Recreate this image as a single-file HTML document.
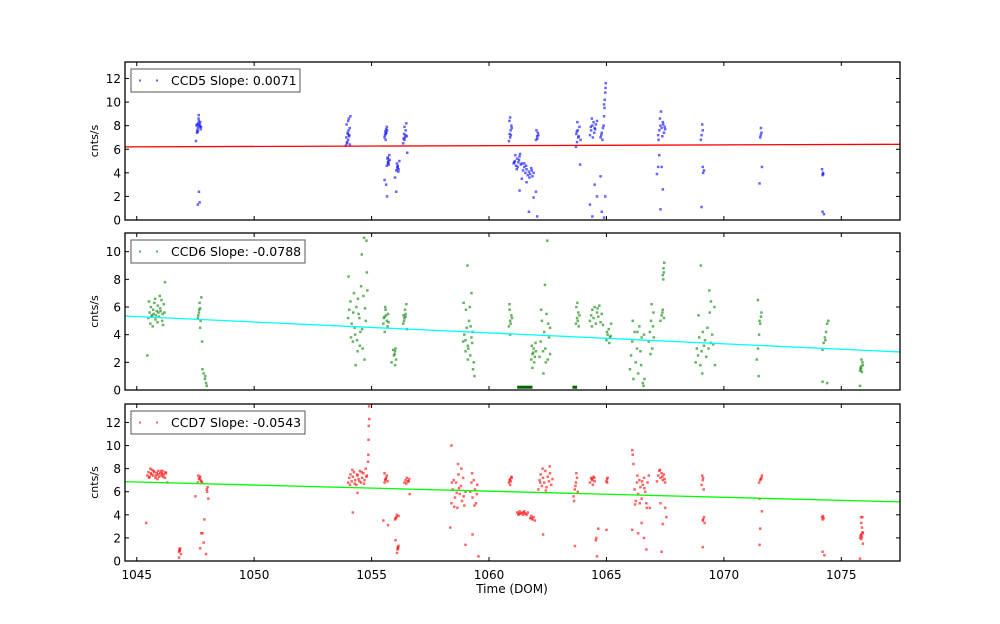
<!DOCTYPE html>
<html><head><meta charset="utf-8">
<style>
html,body{margin:0;padding:0;background:#fff;}
svg{display:block;font-family:"DejaVu Sans","Liberation Sans",sans-serif;}
</style></head>
<body>
<svg id="chart" width="1000" height="624" viewBox="0 0 1000 624" xmlns="http://www.w3.org/2000/svg">
<rect x="0" y="0" width="1000" height="624" fill="#fff"/>
<text x="512" y="593" font-size="12" text-anchor="middle">Time (DOM)</text>
</svg>
<script>
// ---- data ----
const xTicks = [1045, 1050, 1055, 1060, 1065, 1070, 1075];
const xDomain = [1044.5, 1077.5];
const panelNames = ["CCD5", "CCD6", "CCD7"];
const slopes = ["0.0071", "-0.0788", "-0.0543"];
const yDomains = [[0, 13.4], [0, 11.35], [0, 13.6]];
const yTicks5 = [0, 2, 4, 6, 8, 10, 12];
const yTicks6 = [0, 2, 4, 6, 8, 10];
const yTicks7 = [0, 2, 4, 6, 8, 10, 12];
const fit5 = [6.2, 6.42];
const fit6 = [5.35, 2.75];
const fit7 = [6.87, 5.12];

const ccd5Points = [
[1047.55,8.0],[1047.6,7.8],[1047.62,8.2],[1047.58,7.6],[1047.65,8.4],[1047.7,7.9],[1047.68,8.1],[1047.6,7.5],[1047.63,8.6],[1047.72,7.7],[1047.66,8.0],[1047.7,8.3],[1047.57,7.4],[1047.52,6.7],[1047.65,2.4],[1047.6,1.3],[1047.68,1.5],[1047.64,8.9],[1047.74,7.9],[1047.56,8.1],
[1053.9,6.3],[1053.95,6.5],[1054.0,6.8],[1053.92,7.0],[1054.05,7.2],[1053.98,7.4],[1054.02,7.6],[1054.07,7.8],[1053.94,8.1],[1054.0,8.4],[1054.1,8.8],[1053.96,6.6],[1054.04,7.1],[1054.08,6.4],[1053.99,7.3],[1054.03,8.6],
[1055.55,7.0],[1055.6,7.3],[1055.58,7.5],[1055.62,7.7],[1055.65,7.9],[1055.57,7.2],[1055.63,7.4],[1055.6,6.8],[1055.66,7.6],
[1055.65,4.6],[1055.7,4.8],[1055.72,5.0],[1055.68,5.2],[1055.75,5.5],[1055.7,4.9],[1055.77,5.1],[1055.55,3.4],[1055.62,3.0],[1055.66,2.0],[1055.73,4.7],[1055.69,5.3],
[1056.05,4.2],[1056.1,4.4],[1056.12,4.6],[1056.08,4.8],[1056.15,4.3],[1056.1,4.5],[1056.18,5.0],[1056.0,3.6],[1056.05,2.4],[1056.14,4.1],
[1056.35,6.5],[1056.4,6.8],[1056.42,7.0],[1056.38,7.3],[1056.45,7.6],[1056.4,7.9],[1056.48,8.2],[1056.36,6.9],[1056.44,7.2],[1056.52,5.7],[1056.5,7.1],
[1060.85,6.7],[1060.9,7.0],[1060.88,7.3],[1060.92,7.6],[1060.95,8.0],[1060.87,8.4],[1060.9,8.7],[1060.93,7.2],[1060.97,7.8],
[1061.05,4.8],[1061.1,5.0],[1061.15,4.6],[1061.2,5.2],[1061.25,4.9],[1061.3,5.4],[1061.35,4.7],[1061.12,5.5],[1061.22,4.5],[1061.28,5.1],[1061.4,4.8],[1061.18,4.3],[1061.32,5.6],[1061.08,4.9],
[1061.45,4.2],[1061.5,4.5],[1061.55,4.0],[1061.6,4.3],[1061.65,3.8],[1061.7,4.1],[1061.75,3.9],[1061.8,4.4],[1061.85,3.7],[1061.9,4.0],[1061.58,4.6],[1061.72,3.6],[1061.82,4.2],[1061.5,4.8],
[1061.3,2.5],[1061.7,0.7],[1061.9,1.9],[1062.0,2.4],[1061.4,3.5],[1061.6,3.2],
[1062.0,6.8],[1062.05,7.1],[1062.08,7.4],[1062.02,7.6],[1062.1,7.2],[1062.05,0.3],[1062.06,6.9],
[1063.7,6.2],[1063.75,6.6],[1063.8,7.0],[1063.72,7.3],[1063.78,7.6],[1063.85,7.9],[1063.76,8.3],[1063.82,7.1],[1063.9,6.8],[1063.74,7.5],[1063.88,4.7],
[1064.3,7.2],[1064.35,7.6],[1064.4,8.0],[1064.45,8.3],[1064.5,7.8],[1064.38,8.6],[1064.48,7.4],[1064.55,8.1],[1064.42,7.0],[1064.6,8.4],[1064.33,7.9],[1064.52,7.7],
[1064.75,7.0],[1064.8,7.4],[1064.85,7.8],[1064.78,7.2],[1064.83,6.8],[1064.88,8.0],[1064.9,8.8],[1064.92,9.5],[1064.93,10.2],[1064.95,10.8],[1064.96,11.2],[1064.97,11.6],[1064.9,9.8],
[1064.5,3.0],[1064.6,2.0],[1064.3,1.3],[1064.4,0.3],[1064.75,3.7],[1064.8,0.7],[1064.95,2.0],[1064.9,0.2],
[1067.2,7.2],[1067.25,7.6],[1067.3,8.0],[1067.35,7.8],[1067.4,8.3],[1067.45,7.4],[1067.28,8.6],[1067.38,7.1],[1067.48,7.9],[1067.32,9.2],[1067.42,8.1],[1067.22,6.8],[1067.5,7.7],
[1067.15,3.9],[1067.2,4.5],[1067.35,4.5],[1067.4,2.6],[1067.3,0.9],[1067.25,5.5],
[1069.05,7.2],[1069.1,7.6],[1069.08,8.1],[1069.12,4.0],[1069.15,4.2],[1069.1,4.5],[1069.05,1.1],[1069.02,6.8],
[1071.55,7.0],[1071.6,7.4],[1071.58,7.8],[1071.62,4.5],[1071.52,3.1],[1071.57,7.2],
[1074.2,3.8],[1074.22,4.0],[1074.18,4.3],[1074.2,0.7],[1074.26,0.5],[1074.23,3.9]
];

const ccd6Points = [
[1045.5,5.2],[1045.55,5.6],[1045.6,6.0],[1045.65,5.4],[1045.7,5.8],[1045.75,6.3],[1045.8,5.1],[1045.85,5.7],[1045.9,6.1],[1045.95,5.3],[1046.0,5.9],[1046.05,6.5],[1046.1,5.5],[1046.15,6.2],[1045.58,4.8],[1045.68,4.6],[1045.78,6.6],[1045.88,4.9],[1045.98,6.8],[1046.08,5.0],[1046.18,5.6],[1045.52,6.4],[1045.72,5.5],[1045.92,5.6],[1046.12,4.7],[1046.2,7.8],[1045.45,2.5],[1045.62,5.3],[1045.82,5.4],[1046.02,5.7],
[1047.6,5.2],[1047.65,5.6],[1047.7,5.9],[1047.62,5.4],[1047.68,6.3],[1047.72,5.0],[1047.75,6.7],[1047.66,5.8],[1047.7,4.5],[1047.78,3.5],[1047.8,1.5],[1047.85,1.2],[1047.9,0.8],[1047.95,0.5],[1047.98,0.3],[1047.92,1.0],
[1054.0,5.2],[1054.05,5.8],[1054.1,6.4],[1054.15,4.8],[1054.2,3.5],[1054.25,7.0],[1054.3,4.0],[1054.35,6.0],[1054.4,2.8],[1054.45,5.5],[1054.5,3.2],[1054.55,7.5],[1054.6,4.4],[1054.65,6.8],[1054.7,2.2],[1054.75,5.0],[1054.8,8.5],[1054.02,8.2],[1054.12,3.8],[1054.22,5.6],[1054.32,1.8],[1054.42,6.6],[1054.52,4.2],[1054.62,3.0],[1054.72,5.9],[1054.82,7.2],[1054.28,4.5],[1054.48,5.2],[1054.68,11.0],[1054.78,10.8],[1054.58,9.8],[1054.38,3.6],
[1055.5,4.8],[1055.55,5.3],[1055.6,5.8],[1055.65,5.0],[1055.7,5.5],[1055.58,6.0],[1055.68,4.6],[1055.52,5.2],[1055.62,5.4],[1055.72,4.9],[1055.56,4.2],
[1055.95,2.5],[1056.0,2.8],[1056.02,3.0],[1055.98,2.6],[1056.04,2.2],[1055.92,2.9],[1056.0,1.8],[1055.85,2.0],
[1056.35,4.8],[1056.4,5.2],[1056.45,5.5],[1056.38,5.0],[1056.42,5.8],[1056.48,6.2],[1056.36,5.4],[1056.5,4.4],[1056.44,5.3],
[1058.9,3.5],[1058.95,4.0],[1059.0,2.8],[1059.05,4.5],[1059.1,3.2],[1059.15,5.0],[1059.2,2.5],[1059.25,3.8],[1059.3,4.2],[1059.35,2.0],[1058.92,6.3],[1059.02,5.8],[1059.12,3.0],[1059.22,4.6],[1059.32,1.5],[1059.0,3.6],[1059.18,6.0],[1059.28,3.4],[1059.08,9.0],[1059.25,7.0],[1059.1,2.2],[1059.38,1.0],
[1060.85,4.6],[1060.9,5.0],[1060.95,5.4],[1060.88,5.8],[1060.92,4.8],[1060.98,5.2],[1060.87,6.2],[1060.9,4.0],
[1061.8,2.2],[1061.85,2.6],[1061.9,3.0],[1061.95,2.4],[1062.0,2.8],[1061.82,3.2],[1061.92,2.0],[1061.88,2.7],[1061.98,3.4],[1061.85,1.6],
[1062.15,2.4],[1062.2,3.5],[1062.25,5.0],[1062.3,2.8],[1062.35,4.2],[1062.4,3.0],[1062.45,5.5],[1062.5,2.2],[1062.55,3.8],[1062.6,4.5],[1062.22,5.8],[1062.42,2.0],[1062.52,4.8],[1062.32,1.2],[1062.48,10.8],[1062.38,7.6],[1062.6,2.6],
[1063.7,4.8],[1063.75,5.2],[1063.8,5.6],[1063.72,6.0],[1063.78,5.0],[1063.85,5.4],[1063.76,6.3],[1063.82,4.6],
[1064.3,5.0],[1064.35,5.4],[1064.4,5.8],[1064.45,5.2],[1064.5,6.0],[1064.55,4.8],[1064.6,5.6],[1064.65,5.3],[1064.7,6.1],[1064.75,4.9],[1064.8,5.5],[1064.38,4.6],[1064.62,5.9],[1064.85,4.7],
[1065.0,3.6],[1065.05,4.0],[1065.1,4.4],[1065.15,3.8],[1065.2,4.8],[1065.12,3.4],[1065.02,4.2],[1065.18,3.9],
[1066.0,1.5],[1066.05,2.5],[1066.1,3.5],[1066.15,0.8],[1066.2,4.2],[1066.25,2.0],[1066.3,3.0],[1066.35,1.2],[1066.4,4.6],[1066.45,2.8],[1066.5,3.8],[1066.55,0.5],[1066.6,4.0],[1066.62,0.8],[1066.58,0.3],[1066.12,5.0],[1066.32,4.2],[1066.48,1.8],
[1066.8,3.5],[1066.85,4.2],[1066.9,5.0],[1066.95,3.0],[1067.0,5.6],[1066.88,2.6],[1066.98,4.6],[1066.92,6.2],[1067.02,3.8],
[1067.3,5.0],[1067.35,5.4],[1067.4,5.8],[1067.45,5.2],[1067.38,5.6],[1067.42,8.0],[1067.44,8.5],[1067.46,9.2],[1067.4,8.3],[1067.43,8.8],
[1068.8,2.0],[1068.85,3.0],[1068.9,2.5],[1068.95,3.8],[1069.0,1.8],[1069.05,2.8],[1069.1,4.2],[1069.15,3.2],[1069.2,3.6],[1069.25,2.4],[1069.3,4.5],[1069.35,3.0],[1069.4,5.6],[1069.45,3.4],[1069.5,4.0],[1069.55,3.3],[1069.6,6.0],[1068.92,5.4],[1069.08,1.2],[1069.38,7.2],[1069.62,1.8],[1069.02,9.0],[1069.45,6.4],
[1071.4,2.2],[1071.45,3.0],[1071.5,4.0],[1071.55,4.8],[1071.58,5.3],[1071.52,5.0],[1071.48,1.0],[1071.6,5.6],[1071.45,6.5],
[1074.2,2.9],[1074.25,3.4],[1074.3,3.8],[1074.35,4.2],[1074.4,4.8],[1074.45,5.0],[1074.32,3.6],[1074.2,0.6],[1074.4,0.5],
[1075.8,1.4],[1075.85,1.7],[1075.9,2.0],[1075.82,1.6],[1075.88,1.3],[1075.92,1.8],[1075.86,2.2],[1075.84,1.5],[1075.8,0.3]
];
// bar-like dense runs at y~0.2
const ccd6Runs = [[1061.2, 1061.85, 0.2], [1063.55, 1063.75, 0.2]];

const ccd7Points = [
[1045.45,7.4],[1045.5,7.7],[1045.55,7.3],[1045.6,7.6],[1045.65,7.9],[1045.7,7.4],[1045.75,7.7],[1045.8,7.2],[1045.85,7.6],[1045.9,7.8],[1045.95,7.3],[1046.0,7.6],[1046.05,7.4],[1046.1,7.8],[1046.15,7.5],[1046.2,7.2],[1046.25,7.6],[1045.52,7.2],[1045.62,7.5],[1045.72,7.8],[1045.82,7.4],[1045.92,7.5],[1046.02,7.8],[1046.12,7.3],[1046.22,7.7],[1045.58,8.0],[1045.88,7.1],[1046.08,7.6],[1046.3,6.8],[1045.4,3.3],
[1046.8,0.8],[1046.82,1.0],[1046.85,1.1],[1046.83,0.9],[1046.88,0.6],[1046.8,0.3],
[1047.6,6.8],[1047.65,7.1],[1047.7,7.3],[1047.75,6.9],[1047.68,7.2],[1047.72,7.0],[1047.62,7.4],[1047.78,6.8],
[1048.0,6.0],[1048.02,6.4],[1047.98,6.2],[1048.05,5.4],[1047.5,5.6],[1047.8,2.4],[1047.75,2.4],[1047.85,1.6],[1047.88,3.6],[1047.95,0.6],[1047.7,1.1],
[1054.0,6.8],[1054.05,7.2],[1054.1,7.5],[1054.15,6.9],[1054.2,7.3],[1054.25,7.7],[1054.3,7.0],[1054.35,6.6],[1054.4,7.4],[1054.45,7.1],[1054.5,7.8],[1054.55,6.8],[1054.6,7.2],[1054.65,7.6],[1054.7,7.0],[1054.75,8.0],[1054.8,7.4],[1054.08,6.6],[1054.18,7.9],[1054.28,6.7],[1054.38,7.5],[1054.48,6.9],[1054.58,7.7],[1054.68,6.7],[1054.78,7.3],
[1054.85,8.6],[1054.86,9.2],[1054.87,10.5],[1054.88,11.7],[1054.9,12.3],[1054.89,13.4],[1054.2,4.2],[1054.4,5.9],
[1055.55,6.8],[1055.6,7.1],[1055.65,7.4],[1055.58,7.0],[1055.62,7.2],[1055.68,6.9],[1055.55,7.6],[1055.5,3.5],[1055.7,3.1],
[1056.0,3.6],[1056.05,3.8],[1056.08,4.0],[1056.03,3.7],[1056.15,3.9],[1056.02,1.8],
[1056.1,1.0],[1056.12,1.2],[1056.15,1.3],[1056.13,1.1],[1056.08,0.7],
[1056.4,6.8],[1056.45,7.0],[1056.5,7.2],[1056.55,6.9],[1056.6,7.1],[1056.48,6.7],[1056.58,6.9],[1056.62,5.8],
[1058.4,5.0],[1058.45,6.2],[1058.5,7.0],[1058.55,5.5],[1058.6,6.8],[1058.65,4.6],[1058.7,7.5],[1058.75,5.8],[1058.8,6.5],[1058.85,5.2],[1058.9,7.2],[1058.95,4.8],[1059.0,6.0],[1058.42,6.8],[1058.52,4.7],[1058.62,5.9],[1058.72,6.3],[1058.82,8.0],[1058.92,5.6],[1058.68,8.4],[1058.4,10.0],[1058.35,2.9],
[1059.2,6.0],[1059.25,6.8],[1059.3,5.5],[1059.35,7.0],[1059.4,6.2],[1059.45,5.0],[1059.5,6.6],[1059.28,7.6],[1059.38,4.8],[1059.48,5.8],[1059.3,2.3],[1059.0,1.4],[1059.55,0.4],
[1060.85,6.8],[1060.9,7.1],[1060.95,7.3],[1060.88,7.0],[1060.92,6.9],[1060.97,7.2],[1060.9,6.6],
[1061.2,4.2],[1061.25,4.0],[1061.3,4.3],[1061.35,4.1],[1061.4,4.2],[1061.45,4.0],[1061.5,4.3],[1061.55,4.1],[1061.6,4.0],[1061.65,4.2],[1061.28,4.1],[1061.48,4.2],
[1061.75,3.7],[1061.8,3.9],[1061.85,3.6],[1061.9,3.8],[1061.95,3.5],[1061.82,3.7],
[1062.1,6.2],[1062.15,7.0],[1062.2,7.5],[1062.25,6.5],[1062.3,7.2],[1062.35,6.8],[1062.4,7.8],[1062.45,6.4],[1062.5,7.3],[1062.55,6.9],[1062.6,7.6],[1062.65,6.6],[1062.7,7.1],[1062.28,8.0],[1062.42,6.1],[1062.58,8.2],[1062.18,6.8],[1062.3,2.3],
[1063.6,5.6],[1063.65,6.2],[1063.7,6.8],[1063.75,7.2],[1063.68,6.5],[1063.72,7.6],[1063.62,5.2],[1063.78,6.0],[1063.66,1.3],
[1064.3,6.8],[1064.35,7.2],[1064.4,7.0],[1064.45,7.3],[1064.5,6.9],[1064.38,7.1],[1064.48,7.2],[1064.42,6.6],[1064.55,1.8],[1064.57,2.0],[1064.6,0.4],[1064.65,2.8],
[1065.0,6.9],[1065.02,7.1],[1065.05,7.2],[1065.03,6.8],[1065.0,2.7],
[1066.1,9.6],[1066.12,9.2],[1066.15,8.4],[1066.1,2.7],[1066.2,6.2],[1066.25,5.2],[1066.3,6.8],[1066.35,5.8],[1066.4,7.0],[1066.45,6.4],[1066.5,5.4],[1066.55,6.6],[1066.6,7.2],[1066.65,6.0],[1066.7,5.0],[1066.75,6.8],[1066.8,7.4],[1066.22,4.9],[1066.32,7.4],[1066.42,5.0],[1066.52,6.9],[1066.62,6.3],[1066.72,4.6],[1066.5,3.3],[1066.6,2.0],[1066.7,1.0],[1066.85,4.6],[1066.35,2.4],
[1067.2,7.4],[1067.25,7.8],[1067.3,7.2],[1067.35,7.6],[1067.4,7.0],[1067.45,7.5],[1067.5,6.8],[1067.28,7.9],[1067.38,7.3],[1067.48,7.1],[1067.15,6.9],[1067.3,5.0],[1067.35,0.8],[1067.4,3.2],[1067.5,4.6],[1067.55,3.8],
[1069.05,6.6],[1069.1,7.0],[1069.08,7.4],[1069.12,7.2],[1069.14,6.2],[1069.1,3.5],[1069.15,3.8],[1069.18,3.3],[1069.12,3.6],[1069.1,1.2],
[1071.5,6.8],[1071.55,7.0],[1071.6,7.2],[1071.62,7.4],[1071.57,7.1],[1071.52,5.4],[1071.62,4.3],[1071.55,2.8],[1071.52,1.4],
[1074.2,3.6],[1074.22,3.9],[1074.25,3.7],[1074.18,3.8],[1074.2,0.8],[1074.28,0.5],
[1075.8,2.0],[1075.85,2.3],[1075.9,2.5],[1075.82,2.2],[1075.88,2.1],[1075.92,2.4],[1075.86,1.9],[1075.84,3.8],[1075.9,3.8],[1075.85,3.3],[1075.88,2.9],[1075.92,1.5],[1075.8,0.2]
];

// ---- layout ----
const NS = "http://www.w3.org/2000/svg";
const svg = document.getElementById("chart");
const plotLeft = 125, plotRight = 900;
const panelTops = [62, 233, 404], panelBottoms = [220, 390, 561];
const seriesColors = ["#0000ff", "#008000", "#ff0000"];
const fitColors = ["#ff0000", "#00ffff", "#00ff00"];
const allPoints = [ccd5Points, ccd6Points, ccd7Points];
const allTicks = [yTicks5, yTicks6, yTicks7];
const allFits = [fit5, fit6, fit7];

function xScale(v){ return plotLeft + (v - xDomain[0]) / (xDomain[1] - xDomain[0]) * (plotRight - plotLeft); }
function mk(tag, attrs, parent){
  const el = document.createElementNS(NS, tag);
  for (const k in attrs) el.setAttribute(k, attrs[k]);
  (parent || svg).appendChild(el);
  return el;
}

for (let p = 0; p < 3; p++){
  const top = panelTops[p], bot = panelBottoms[p];
  const yd = yDomains[p];
  const yScale = v => bot - (v - yd[0]) / (yd[1] - yd[0]) * (bot - top);
  const g = mk("g", {});
  
  

  const pg = mk("g", {fill: seriesColors[p], "fill-opacity": "0.6"}, g);
  
  
  allPoints[p].forEach(pt => {
    const r = mk("rect", {x: (xScale(pt[0]) - 1.25).toFixed(1), y: (yScale(pt[1]) - 1.25).toFixed(1), width: 2.5, height: 2.5}, pg);
    
    
  });
  if (p === 1){
    ccd6Runs.forEach(run => {
      const r = mk("rect", {x: xScale(run[0]).toFixed(1), y: (yScale(run[2]) - 1.5).toFixed(1), width: (xScale(run[1]) - xScale(run[0])).toFixed(1), height: 3, fill: "#006400"}, g);
      
      
    });
  }

  const fl = mk("line", {x1: plotLeft, x2: plotRight, y1: yScale(allFits[p][0]), y2: yScale(allFits[p][1]), stroke: fitColors[p], "stroke-width": 1.3}, g);
  
  

  const fr = mk("rect", {x: plotLeft, y: top, width: plotRight - plotLeft, height: bot - top, fill: "none", stroke: "#000", "stroke-width": 1.3}, g);
  
  

  xTicks.forEach(t => {
    const x = xScale(t);
    const a = mk("line", {x1: x, x2: x, y1: bot, y2: bot - 4, stroke: "#000"}, g);
    
    
    const b = mk("line", {x1: x, x2: x, y1: top, y2: top + 4, stroke: "#000"}, g);
    
    
    if (p === 2){
      const tl = mk("text", {x: x, y: bot + 18, "font-size": 12, "text-anchor": "middle"}, g);
      tl.textContent = t;
      
      
    }
  });
  allTicks[p].forEach(t => {
    const y = yScale(t);
    const a = mk("line", {x1: plotLeft, x2: plotLeft + 4, y1: y, y2: y, stroke: "#000"}, g);
    
    
    const b = mk("line", {x1: plotRight, x2: plotRight - 4, y1: y, y2: y, stroke: "#000"}, g);
    
    
    const tl = mk("text", {x: plotLeft - 4, y: y + 4.5, "font-size": 12, "text-anchor": "end"}, g);
    tl.textContent = t;
    
    
  });
  const yc = (top + bot) / 2;
  const yt = mk("text", {x: 98, y: yc, "font-size": 11, "text-anchor": "middle", transform: "rotate(-90 98 " + yc + ")"}, g);
  yt.textContent = "cnts/s";
  
  

  const lg = mk("g", {}, g);
  
  
  const label = panelNames[p] + " Slope: " + slopes[p];
  const lw = p === 0 ? 169 : 174;
  mk("rect", {x: 131, y: top + 7, width: lw, height: 23, fill: "#fff", stroke: "#555", "stroke-width": 1}, lg);
  [140, 157].forEach(mx => mk("rect", {x: mx - 1, y: top + 17.5, width: 2, height: 2, fill: seriesColors[p], "fill-opacity": 0.6}, lg));
  const lt = mk("text", {x: 171, y: top + 23, "font-size": 12.5}, lg);
  lt.textContent = label;
  
  
}
</script>
</body></html>
